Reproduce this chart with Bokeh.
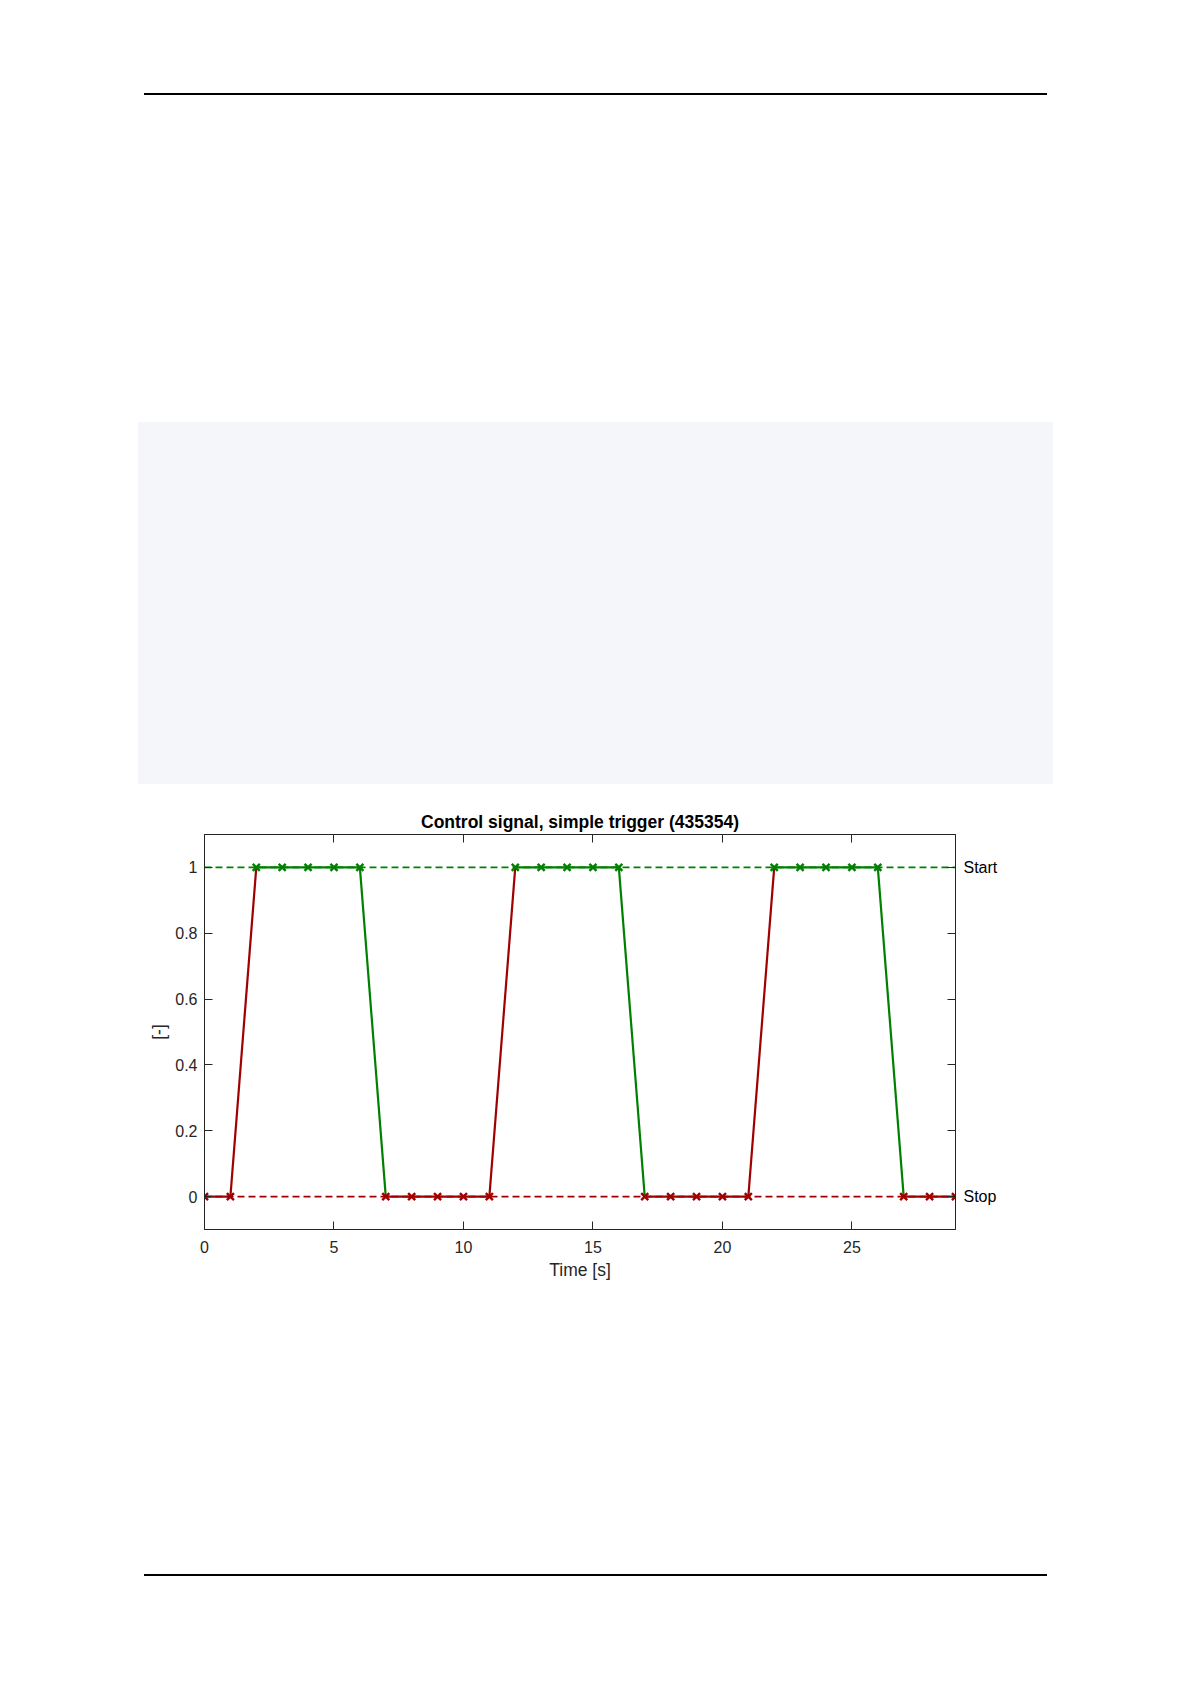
from bokeh.plotting import figure
from bokeh.models import Div, LinearAxis, FixedTicker, Range1d, Span, ColumnDataSource
from bokeh.layouts import column
from bokeh.embed import file_html
from bokeh.resources import INLINE

# Sampled trigger signal (1 s steps)
time_s = list(range(30))
signal = [0, 0, 1, 1, 1, 1, 1, 0, 0, 0, 0, 0, 1, 1, 1, 1, 1,
          0, 0, 0, 0, 0, 1, 1, 1, 1, 1, 0, 0, 0]

start_level = 1
stop_level = 0
level_names = {0: "Stop", 1: "Start"}

x_ticks = [0, 5, 10, 15, 20, 25]
y_ticks = [0, 0.2, 0.4, 0.6, 0.8, 1]

GREEN = "#008000"
RED = "#A00000"
AXC = "#262626"
FONT = "Liberation Sans"

# segments take the colour of the state they leave
seg = dict(x0=time_s[:-1], y0=signal[:-1], x1=time_s[1:], y1=signal[1:],
           c=[GREEN if s == 1 else RED for s in signal[:-1]])
pts = dict(x=time_s, y=signal, c=[GREEN if s == 1 else RED for s in signal])

p = figure(output_backend="svg", toolbar_location=None,
           frame_width=751, frame_height=395,
           min_border_left=204, min_border_right=236,
           min_border_top=44, min_border_bottom=90,
           x_range=Range1d(0, 29), y_range=Range1d(-0.1, 1.1),
           background_fill_color="white", border_fill_color="white")

p.grid.visible = False
p.outline_line_color = AXC
p.outline_line_width = 1

p.title.text = "Control signal, simple trigger (435354)"
p.title.align = "center"
p.title.text_font = FONT
p.title.text_font_size = "17.5px"
p.title.text_font_style = "bold"
p.title.text_color = "black"
p.title.standoff = 5

def style_axis(ax):
    ax.axis_line_color = AXC
    ax.major_tick_line_color = AXC
    ax.minor_tick_line_color = AXC
    ax.major_tick_in = 8
    ax.major_tick_out = 0
    ax.minor_tick_in = 8
    ax.minor_tick_out = 0
    ax.major_label_text_font = FONT
    ax.major_label_text_font_size = "16px"
    ax.major_label_text_color = AXC
    ax.axis_label_text_font = FONT
    ax.axis_label_text_font_size = "17.5px"
    ax.axis_label_text_font_style = "normal"
    ax.axis_label_text_color = AXC

xa = p.xaxis[0]
style_axis(xa)
xa.ticker = FixedTicker(ticks=x_ticks)
xa.axis_label = "Time [s]"
xa.major_label_standoff = 11
xa.axis_label_standoff = 4

ya = p.yaxis[0]
style_axis(ya)
ya.ticker = FixedTicker(ticks=y_ticks)
ya.axis_label = "[-]"
ya.major_label_standoff = 7
ya.axis_label_standoff = 3

# box sides: inward tick marks only (no labels on top)
top = LinearAxis(ticker=FixedTicker(ticks=[], minor_ticks=x_ticks))
style_axis(top)
top.major_label_standoff = 0
p.add_layout(top, "above")

right = LinearAxis(ticker=FixedTicker(ticks=[stop_level, start_level],
                                      minor_ticks=y_ticks))
style_axis(right)
right.major_label_overrides = {k: v for k, v in level_names.items()}
right.major_label_standoff = 8
right.major_label_text_color = "black"
p.add_layout(right, "right")

# reference levels
p.add_layout(Span(location=start_level, dimension="width", line_color=GREEN,
                  line_width=1.8, line_dash="7 4", level="underlay"))
p.add_layout(Span(location=stop_level, dimension="width", line_color=RED,
                  line_width=1.8, line_dash="7 4", level="underlay"))

p.segment("x0", "y0", "x1", "y1", source=ColumnDataSource(seg),
          line_color="c", line_width=2.2)
p.scatter("x", "y", source=ColumnDataSource(pts), marker="x", size=10,
          line_color="c", line_width=2.4)

header = Div(width=1191, height=790, styles={"margin": "0", "padding": "0"}, text="""
<div style="position:relative;width:1191px;height:790px;">
  <div style="position:absolute;left:144px;top:93px;width:903px;height:2px;background:#000;"></div>
  <div style="position:absolute;left:138px;top:422px;width:915px;height:362px;background:#F5F6FA;"></div>
</div>""")

footer = Div(width=1191, height=365, styles={"margin": "0", "padding": "0"}, text="""
<div style="position:relative;width:1191px;height:365px;">
  <div style="position:absolute;left:144px;top:255px;width:903px;height:2px;background:#000;"></div>
</div>""")

page = column(header, p, footer, spacing=0)

with open("out.html", "w") as f:
    f.write(file_html(page, INLINE, title="Control signal"))
